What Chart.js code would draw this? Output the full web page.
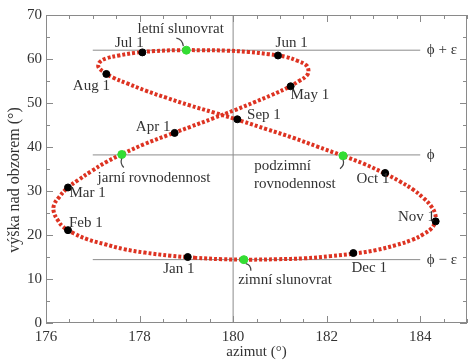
<!DOCTYPE html>
<html lang="cs">
<head>
    <meta charset="UTF-8">
    <title>Analema</title>
    <style>
        body {
            margin: 0;
            padding: 0;
            background: #fff;
            overflow: hidden;
        }
        .wrap {
            width: 472px;
            height: 360px;
        }
    </style>
    <script src="https://cdn.jsdelivr.net/npm/chart.js"></script>
</head>
<body>

    <div class="wrap">
        <canvas id="analemma" width="472" height="360"></canvas>
    </div>

    <script>
        // Poloha Slunce v pravé poledne, co pět dní (1. led, 6. led, ...)
        const azimuth = [179.21, 178.66, 178.11, 177.66, 177.26, 176.89, 176.59, 176.37, 176.25, 176.17,
                         176.17, 176.28, 176.45, 176.69, 176.97, 177.29, 177.67, 178.09, 178.61, 179.09,
                         179.57, 180.04, 180.46, 180.82, 181.17, 181.41, 181.58, 181.61, 181.56, 181.37,
                         181.12, 180.76, 180.33, 179.86, 179.32, 178.79, 178.32, 177.91, 177.56, 177.28,
                         177.15, 177.12, 177.23, 177.43, 177.75, 178.13, 178.57, 179.06, 179.60, 180.18,
                         180.73, 181.28, 181.80, 182.32, 182.79, 183.20, 183.56, 183.85, 184.07, 184.23,
                         184.32, 184.32, 184.25, 184.07, 183.83, 183.48, 183.07, 182.61, 182.09, 181.52,
                         180.95, 180.36, 179.76];
        const altitude = [14.8, 15.3, 16.0, 16.8, 17.9, 19.0, 20.4, 21.8, 23.4, 25.1,
                          26.8, 28.6, 30.6, 32.5, 34.5, 36.6, 38.6, 40.6, 42.7, 44.6,
                          46.5, 48.4, 50.2, 51.8, 53.5, 55.0, 56.3, 57.5, 58.6, 59.6,
                          60.5, 61.1, 61.6, 61.9, 62.0, 62.0, 61.8, 61.4, 60.8, 60.1,
                          59.3, 58.2, 57.1, 55.8, 54.4, 52.8, 51.2, 49.5, 47.8, 45.9,
                          44.0, 42.1, 40.1, 38.1, 36.2, 34.2, 32.2, 30.3, 28.4, 26.6,
                          24.8, 23.2, 21.6, 20.2, 18.9, 17.7, 16.6, 15.8, 15.2, 14.7,
                          14.5, 14.4, 14.5];

        // první dny měsíců
        const months = ['Jan 1', 'Feb 1', 'Mar 1', 'Apr 1', 'May 1', 'Jun 1',
                        'Jul 1', 'Aug 1', 'Sep 1', 'Oct 1', 'Nov 1', 'Dec 1'];
        const monthAz = [179.03, 176.47, 176.47, 178.75, 181.23, 180.96, 178.06, 177.29, 180.09, 183.25, 184.33, 182.57];
        const monthAlt = [15.0, 21.1, 30.8, 43.2, 53.8, 60.8, 61.5, 56.6, 46.3, 34.1, 23.1, 15.9];

        // slunovraty a rovnodennosti
        const eventAz = [177.62, 179.0, 182.35, 180.23];
        const eventAlt = [38.3, 62.0, 38.0, 14.4];

        // vodorovné čáry phi + eps, phi, phi - eps
        const levelNames = ['ϕ + ε', 'ϕ', 'ϕ − ε'];
        const levels = [62.0, 38.2, 14.4];
        const levelFrom = 177;
        const levelTo = 184;

        const xTicks = [176, 178, 180, 182, 184];
        const yTicks = [0, 10, 20, 30, 40, 50, 60, 70];

        const serif = '"Liberation Serif", "Times New Roman", serif';
        const textColor = '#333';
        const axisColor = '#8a8a8a';

        // popisky v souřadnicích grafu
        const notes = [
            { text: 'letní slunovrat', x: 178.88, y: 66.8 },
            { text: 'Jul 1', x: 177.78, y: 63.6 },
            { text: 'Jun 1', x: 181.25, y: 63.6 },
            { text: 'Aug 1', x: 176.97, y: 53.9 },
            { text: 'May 1', x: 181.64, y: 51.8 },
            { text: 'Sep 1', x: 180.66, y: 47.3 },
            { text: 'Apr 1', x: 178.29, y: 44.5 },
            { text: 'jarní rovnodennost', x: 178.31, y: 33.0 },
            { text: 'podzimní', x: 181.06, y: 35.7 },
            { text: 'rovnodennost', x: 181.32, y: 31.6 },
            { text: 'Oct 1', x: 182.99, y: 32.7 },
            { text: 'Mar 1', x: 176.89, y: 29.5 },
            { text: 'Feb 1', x: 176.85, y: 22.7 },
            { text: 'Jan 1', x: 178.84, y: 12.3 },
            { text: 'Dec 1', x: 182.91, y: 12.5 },
            { text: 'Nov 1', x: 183.92, y: 24.1 },
            { text: 'zimní slunovrat', x: 181.11, y: 9.8 }
        ];

        // malé šipky k zeleným bodům (posun v pixelech od bodu)
        const hooks = [
            [[2, 13], [-2, 9], [0, 4]],
            [[-10, -12], [-4, -11], [-3, -4]],
            [[-3, 13], [2, 9], [0, 4]],
            [[7, 11], [7, 5], [2, 4]]
        ];

        const curve = azimuth.map((a, i) => ({ x: a, y: altitude[i] }));
        curve.push(curve[0]);

        const levelSets = levels.map(v => ({
            data: [{ x: levelFrom, y: v }, { x: levelTo, y: v }],
            showLine: true,
            borderColor: '#8c8c8c',
            borderWidth: 1,
            pointRadius: 0,
            order: 3
        }));

        const decorations = {
            id: 'decorations',
            afterDraw(chart) {
                const { ctx, chartArea: a, scales: { x, y } } = chart;
                ctx.save();

                // rám a dovnitř směřující značky
                ctx.strokeStyle = axisColor;
                ctx.lineWidth = 1;
                ctx.strokeRect(a.left + 0.5, a.top + 0.5, a.right - a.left - 1, a.bottom - a.top - 1);
                ctx.beginPath();
                for (let v = 176; v <= 185; v += 0.5) {
                    const px = Math.round(x.getPixelForValue(v)) + 0.5;
                    const len = xTicks.includes(v) ? 7 : 4;
                    ctx.moveTo(px, a.bottom); ctx.lineTo(px, a.bottom - len);
                    ctx.moveTo(px, a.top); ctx.lineTo(px, a.top + len);
                }
                for (let v = 0; v <= 70; v += 5) {
                    const py = Math.round(y.getPixelForValue(v)) + 0.5;
                    const len = yTicks.includes(v) ? 7 : 4;
                    ctx.moveTo(a.left, py); ctx.lineTo(a.left + len, py);
                    ctx.moveTo(a.right, py); ctx.lineTo(a.right - len, py);
                }
                ctx.stroke();

                // šipky
                ctx.strokeStyle = '#444';
                ctx.lineWidth = 1.2;
                hooks.forEach((h, i) => {
                    const cx = x.getPixelForValue(eventAz[i]);
                    const cy = y.getPixelForValue(eventAlt[i]);
                    ctx.beginPath();
                    ctx.moveTo(cx + h[0][0], cy + h[0][1]);
                    ctx.quadraticCurveTo(cx + h[1][0], cy + h[1][1], cx + h[2][0], cy + h[2][1]);
                    ctx.stroke();
                });

                // texty
                ctx.fillStyle = textColor;
                ctx.font = '15px ' + serif;
                ctx.textAlign = 'center';
                ctx.textBaseline = 'middle';
                notes.forEach(n => {
                    ctx.fillText(n.text, x.getPixelForValue(n.x), y.getPixelForValue(n.y));
                });
                ctx.textAlign = 'left';
                levels.forEach((v, i) => {
                    ctx.fillText(levelNames[i], x.getPixelForValue(184.14), y.getPixelForValue(v));
                });

                // popis osy y
                ctx.font = '16px ' + serif;
                ctx.translate(15, 180);
                ctx.rotate(-Math.PI / 2);
                ctx.textAlign = 'center';
                ctx.fillText('výška nad obzorem (°)', 0, 0);
                ctx.restore();
            }
        };

        const ctx = document.getElementById('analemma').getContext('2d');
        const analemmaChart = new Chart(ctx, {
            type: 'scatter',
            data: {
                datasets: [
                    {
                        data: eventAz.map((a, i) => ({ x: a, y: eventAlt[i] })),
                        backgroundColor: '#33dd33',
                        borderColor: '#33dd33',
                        pointRadius: 4,
                        order: 0
                    },
                    {
                        data: monthAz.map((a, i) => ({ x: a, y: monthAlt[i] })),
                        backgroundColor: '#000',
                        borderColor: '#000',
                        pointRadius: 3.5,
                        order: 1
                    },
                    {
                        data: curve,
                        showLine: true,
                        tension: 0.4,
                        borderColor: '#dd3322',
                        borderWidth: 4,
                        borderDash: [3, 2],
                        pointRadius: 0,
                        order: 2
                    },
                    ...levelSets,
                    {
                        data: [{ x: 180, y: 0 }, { x: 180, y: 70 }],
                        showLine: true,
                        borderColor: '#8c8c8c',
                        borderWidth: 1,
                        pointRadius: 0,
                        order: 3
                    }
                ]
            },
            options: {
                responsive: false,
                animation: false,
                layout: { padding: { top: 15, right: 1, left: 0, bottom: 0 } },
                plugins: {
                    legend: { display: false },
                    tooltip: { enabled: false }
                },
                scales: {
                    x: {
                        type: 'linear',
                        min: 176,
                        max: 185,
                        afterFit: s => { s.height = 37; },
                        grid: { display: false, drawTicks: false },
                        border: { display: false },
                        ticks: {
                            stepSize: 2,
                            includeBounds: false,
                            padding: 5,
                            color: textColor,
                            font: { family: serif, size: 15 }
                        },
                        title: {
                            display: true,
                            text: 'azimut (°)',
                            color: textColor,
                            padding: 0,
                            font: { family: serif, size: 15, lineHeight: 1 }
                        }
                    },
                    y: {
                        min: 0,
                        max: 70,
                        afterFit: s => { s.width = 46; },
                        grid: { display: false, drawTicks: false },
                        border: { display: false },
                        ticks: {
                            stepSize: 10,
                            padding: 4,
                            color: textColor,
                            font: { family: serif, size: 15 }
                        }
                    }
                }
            },
            plugins: [decorations]
        });
    </script>

</body>
</html>
